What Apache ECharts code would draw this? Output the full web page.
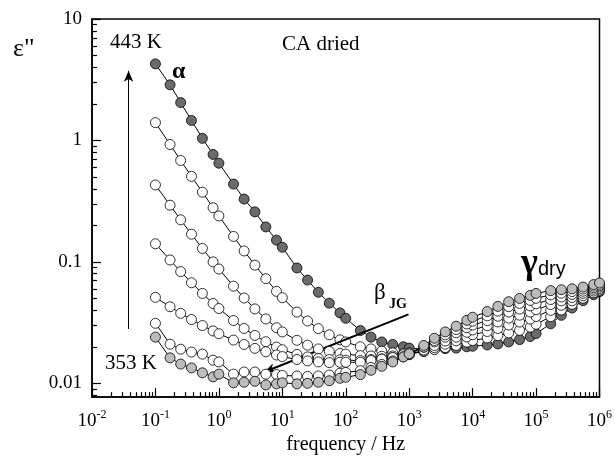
<!DOCTYPE html>
<html>
<head>
<meta charset="utf-8">
<script src="https://cdn.jsdelivr.net/npm/echarts@6/dist/echarts.min.js"></script>
<style>
html, body { margin: 0; padding: 0; background: #fff; }
#chart { width: 615px; height: 460px; }
</style>
</head>
<body>
<div id="chart"></div>
<script>
// measured frequencies (Hz), same grid for every temperature
const freq = [0.1, 0.17, 0.25, 0.37, 0.55, 0.81,
    1, 1.7, 2.5, 3.7, 5.5, 8.1,
    10, 17, 25, 37, 55, 81,
    100, 170, 250, 370, 550, 810,
    1000, 1700, 2500, 3700, 5500, 8100,
    1e4, 1.7e4, 2.5e4, 3.7e4, 5.5e4, 8.1e4,
    1e5, 1.7e5, 2.5e5, 3.7e5, 5.5e5, 8.1e5,
    1e6];

// dielectric loss eps'' for each temperature
const eps443 = [4.27, 2.87, 2.05, 1.46, 1.04, 0.767, 0.649, 0.437, 0.329, 0.258, 0.194, 0.151, 0.132, 0.0891, 0.0708, 0.0562, 0.0457, 0.038, 0.0343, 0.0272, 0.024, 0.0219, 0.0209, 0.020, 0.0195, 0.0191, 0.0191, 0.0193, 0.0195, 0.0200, 0.0202, 0.0207, 0.0211, 0.0219, 0.0229, 0.0243, 0.0257, 0.0309, 0.0363, 0.0417, 0.0479, 0.0537, 0.0569];
const eps428 = [1.40, 0.926, 0.684, 0.506, 0.375, 0.279, 0.239, 0.162, 0.123, 0.094, 0.0727, 0.0572, 0.0507, 0.0386, 0.0326, 0.0282, 0.0251, 0.0228, 0.0219, 0.0200, 0.0192, 0.0184, 0.0178, 0.0176, 0.0177, 0.0182, 0.0190, 0.0197, 0.0205, 0.0218, 0.0225, 0.0236, 0.0247, 0.0260, 0.0273, 0.0290, 0.0306, 0.0354, 0.0401, 0.0447, 0.0502, 0.0556, 0.0586];
const eps413 = [0.430, 0.293, 0.222, 0.169, 0.129, 0.0999, 0.0874, 0.0631, 0.0504, 0.0410, 0.0339, 0.0287, 0.0265, 0.0226, 0.0206, 0.0192, 0.0183, 0.0176, 0.0174, 0.0169, 0.0168, 0.0167, 0.0168, 0.0170, 0.0172, 0.0185, 0.0197, 0.0210, 0.0224, 0.0241, 0.0251, 0.0267, 0.0283, 0.0302, 0.0319, 0.0338, 0.0355, 0.0399, 0.0439, 0.0478, 0.0526, 0.0575, 0.0603];
const eps398 = [0.141, 0.1036, 0.0831, 0.0673, 0.055, 0.0454, 0.0413, 0.0329, 0.0283, 0.0248, 0.022, 0.0199, 0.0189, 0.0173, 0.0165, 0.016, 0.0157, 0.0156, 0.0155, 0.0154, 0.0157, 0.0159, 0.0163, 0.0169, 0.0173, 0.0188, 0.0205, 0.0223, 0.024, 0.0263, 0.0275, 0.0298, 0.032, 0.0344, 0.0364, 0.0386, 0.0404, 0.0445, 0.0477, 0.0509, 0.055, 0.0594, 0.062];
const eps383 = [0.051, 0.0427, 0.0377, 0.0335, 0.0299, 0.027, 0.0256, 0.0227, 0.0209, 0.0194, 0.0182, 0.0171, 0.0166, 0.0157, 0.0153, 0.015, 0.0148, 0.0149, 0.0149, 0.0149, 0.0154, 0.0158, 0.0163, 0.0172, 0.0178, 0.0198, 0.0219, 0.024, 0.0261, 0.0287, 0.0302, 0.0328, 0.0357, 0.0386, 0.0409, 0.0434, 0.0452, 0.049, 0.0514, 0.0539, 0.0573, 0.0612, 0.0636];
const eps368 = [0.0312, 0.021, 0.0191, 0.0181, 0.0174, 0.0155, 0.015, 0.0119, 0.0124, 0.0124, 0.0119, 0.0118, 0.0116, 0.0115, 0.0114, 0.0115, 0.0117, 0.0121, 0.0123, 0.0127, 0.0135, 0.0143, 0.0153, 0.0165, 0.0173, 0.0199, 0.0225, 0.0251, 0.0277, 0.0308, 0.0325, 0.0359, 0.0393, 0.0428, 0.0455, 0.0482, 0.0501, 0.0535, 0.0552, 0.057, 0.0597, 0.0631, 0.0653];
const eps353 = [0.024, 0.0162, 0.0144, 0.0134, 0.0122, 0.0113, 0.0119, 0.0101, 0.0102, 0.0104, 0.0097, 0.0099, 0.0101, 0.0099, 0.0100, 0.0102, 0.0105, 0.0110, 0.0112, 0.0118, 0.0128, 0.0138, 0.0150, 0.0165, 0.0175, 0.0205, 0.0235, 0.0265, 0.0295, 0.033, 0.035, 0.039, 0.043, 0.047, 0.050, 0.053, 0.055, 0.058, 0.059, 0.060, 0.062, 0.065, 0.067];

const temps = ['443 K', '428 K', '413 K', '398 K', '383 K', '368 K', '353 K'];
const curves = [eps443, eps428, eps413, eps398, eps383, eps368, eps353];
const fills = ['#6b6b6b', '#fff', '#fff', '#fff', '#fff', '#fff', '#bcbcbc'];

const yTickValues = [0.01, 0.1, 1, 10];
const yTickLabels = ['0.01', '0.1', '1', '10'];
const xTickValues = [0.01, 0.1, 1, 10, 100, 1e3, 1e4, 1e5, 1e6];

const X_MIN = 0.01, X_MAX = 1e6;
const Y_MIN = 0.0077, Y_MAX = 10;
const serif = 'Liberation Serif';

// plot area, used to turn tick lengths (px) into log-axis offsets
const plotW = 615 - 92 - 12, plotH = 460 - 19 - 60;
const pxPerDecX = plotW / Math.log10(X_MAX / X_MIN);
const pxPerDecY = plotH / Math.log10(Y_MAX / Y_MIN);

// inward tick marks: decades and minor 2..9
const minorSteps = [2, 3, 4, 5, 6, 7, 8, 9];
let tickLines = [];
function addTick(v, leftAxis, len) {
    if (leftAxis) {
        tickLines.push([{coord: [X_MIN, v]}, {coord: [X_MIN * Math.pow(10, len / pxPerDecX), v]}]);
    } else {
        tickLines.push([{coord: [v, Y_MIN]}, {coord: [v, Y_MIN * Math.pow(10, len / pxPerDecY)]}]);
    }
}
xTickValues.forEach(v => addTick(v, false, 9));
yTickValues.forEach(v => addTick(v, true, 9));
for (let e = -2; e < 6; e++) minorSteps.forEach(m => addTick(m * Math.pow(10, e), false, 5));
for (let e = -3; e < 1; e++) {
    minorSteps.forEach(m => {
        let v = m * Math.pow(10, e);
        if (v > Y_MIN && v < Y_MAX) addTick(v, true, 5);
    });
}

let series = curves.map((vals, i) => ({
    name: temps[i],
    type: 'line',
    data: freq.map((f, j) => [f, vals[j]]),
    symbol: 'circle',
    symbolSize: 10,
    showAllSymbol: true,
    lineStyle: {color: '#000', width: 1},
    itemStyle: {color: fills[i], borderColor: '#000', borderWidth: 0.8},
    z: 3 + i,
    silent: true
}));

// arrows (temperature direction and beta_JG shift)
series[0].markLine = {
    silent: true,
    symbol: ['none', 'arrow'],
    symbolSize: [7, 11],
    label: {show: false},
    data: [
        [{coord: [0.0377, 0.028], lineStyle: {color: '#000', width: 1, type: 'solid'}},
         {coord: [0.0377, 3.74]}],
        [{coord: [975, 0.037], lineStyle: {color: '#000', width: 2, type: 'solid'}},
         {coord: [5.2, 0.0124]}]
    ]
};

series[6].markLine = {
    silent: true,
    symbol: ['none', 'none'],
    label: {show: false},
    lineStyle: {color: '#000', width: 1.2, type: 'solid'},
    data: tickLines
};

let chart = echarts.init(document.getElementById('chart'));
let option = {
    animation: false,
    backgroundColor: '#fff',
    grid: {left: 92, right: 12, top: 19, bottom: 60, show: true, borderColor: '#000', borderWidth: 1.5},
    xAxis: {
        type: 'log',
        logBase: 10,
        min: X_MIN,
        max: X_MAX,
        splitNumber: 8,
        name: 'frequency / Hz',
        nameLocation: 'middle',
        nameGap: 36,
        nameTextStyle: {fontFamily: serif, fontSize: 20, color: '#000'},
        axisLine: {lineStyle: {color: '#000', width: 1.5}},
        axisTick: {show: false},
        splitLine: {show: false},
        axisLabel: {
            margin: 12,
            formatter: function (v) {
                let e = Math.round(Math.log10(v));
                return '{b|10}{s|' + e + '}';
            },
            rich: {
                b: {fontFamily: serif, fontSize: 19, color: '#000', verticalAlign: 'bottom'},
                s: {fontFamily: serif, fontSize: 12, color: '#000', verticalAlign: 'bottom', padding: [0, 0, 9, 0]}
            }
        }
    },
    yAxis: {
        type: 'log',
        logBase: 10,
        min: Y_MIN,
        max: Y_MAX,
        splitNumber: 4,
        axisLine: {lineStyle: {color: '#000', width: 1.5}},
        axisTick: {show: false},
        splitLine: {show: false},
        axisLabel: {
            margin: 10,
            fontFamily: serif,
            fontSize: 19,
            color: '#000',
            formatter: function (v) {
                for (let i = 0; i < yTickValues.length; i++) {
                    if (Math.abs(Math.log10(v) - Math.log10(yTickValues[i])) < 1e-6) return yTickLabels[i];
                }
                return '';
            }
        }
    },
    graphic: [
        {type: 'text', left: 13, top: 36, style: {text: 'ε"', font: '26px "Liberation Serif"', fill: '#000'}},
        {type: 'text', left: 110, top: 32, style: {text: '443 K', font: '21px "Liberation Serif"', fill: '#000'}},
        {type: 'text', left: 282, top: 34, style: {text: 'CA dried', font: '21px "Liberation Serif"', fill: '#000'}},
        {type: 'text', left: 105, top: 353, style: {text: '353 K', font: '21px "Liberation Serif"', fill: '#000'}},
        {type: 'text', left: 172, top: 60, style: {text: 'α', font: 'bold 24px "Liberation Serif"', fill: '#000'}},
        {type: 'text', left: 374, top: 281, style: {text: 'β', font: '23px "Liberation Serif"', fill: '#000'}},
        {type: 'text', left: 389, top: 297, style: {text: 'JG', font: 'bold 14px "Liberation Serif"', fill: '#000'}},
        {type: 'text', left: 521, top: 246, style: {text: 'γ', font: 'bold 36px "Liberation Serif"', fill: '#000'}},
        {type: 'text', left: 538, top: 259, style: {text: 'dry', font: '20px "Liberation Sans"', fill: '#000'}}
    ],
    series: series
};
chart.setOption(option);
</script>
</body>
</html>
